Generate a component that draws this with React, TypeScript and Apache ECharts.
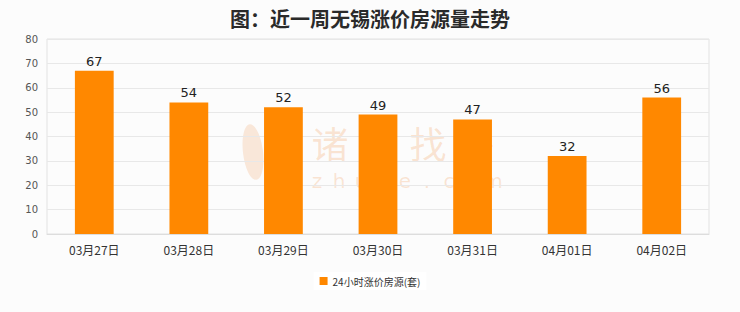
import React, { useEffect, useRef } from "react";
import * as echarts from "echarts";

const titleText = "图：近一周无锡涨价房源量走势";
const categories = ["03月27日", "03月28日", "03月29日", "03月30日", "03月31日", "04月01日", "04月02日"];
const seriesName = "24小时涨价房源(套)";
const values = [67, 54, 52, 49, 47, 32, 56];
const yTicks = { min: 0, max: 80, interval: 10 };
const watermarkBig = ["诸", "葛", "找", "房"];
const watermarkSmall = ["z", "h", "u", "g", "e", ".", "c", "o", "m"];

export default function App() {
  const ref = useRef<HTMLDivElement>(null);
  useEffect(() => {
    const chart = echarts.init(ref.current!, null, { renderer: "svg" });
    const wm = "rgba(240,140,60,0.22)";
    const graphics: any[] = [
      {
        type: "ellipse",
        x: 253,
        y: 152,
        rotation: 0.12,
        shape: { cx: 0, cy: 0, rx: 10, ry: 28 },
        style: { fill: "rgba(240,140,60,0.18)" },
        z: 0,
      },
    ];
    watermarkBig.forEach((ch, i) => {
      graphics.push({
        type: "text",
        x: 330 + i * 49,
        y: 143,
        style: {
          text: ch,
          fontSize: 37,
          lineHeight: 30,
          fill: wm,
          align: "center",
          verticalAlign: "middle",
          fontFamily: "Noto Sans CJK SC",
        },
        z: 0,
      });
    });
    watermarkSmall.forEach((ch, i) => {
      graphics.push({
        type: "text",
        x: 317 + i * 22,
        y: 181,
        style: {
          text: ch,
          fontSize: 20,
          lineHeight: 14,
          fill: wm,
          align: "center",
          verticalAlign: "middle",
          fontFamily: "DejaVu Sans",
        },
        z: 0,
      });
    });
    chart.setOption({
      animation: false,
      backgroundColor: "#fcfcfc",
      title: {
        text: titleText,
        left: "center",
        top: 3,
        textStyle: { fontSize: 20, fontWeight: "bold", color: "#2a2a2a", fontFamily: "Noto Sans CJK SC" },
      },
      legend: {
        bottom: 22,
        left: "center",
        backgroundColor: "#ffffff",
        padding: [4, 6],
        itemWidth: 8,
        itemHeight: 8,
        itemGap: 5,
        textStyle: { fontSize: 10, color: "#333", fontFamily: "Noto Sans CJK SC" },
        data: [{ name: seriesName, icon: "rect" }],
      },
      grid: {
        left: 47,
        right: 31,
        top: 39,
        bottom: 78,
        show: true,
        borderColor: "#e2e2e2",
        borderWidth: 1,
        backgroundColor: "transparent",
      },
      graphic: graphics,
      xAxis: {
        type: "category",
        data: categories,
        axisTick: { show: false },
        axisLine: { lineStyle: { color: "#ddd" } },
        axisLabel: { color: "#333", fontSize: 12, margin: 9, fontFamily: "Noto Sans CJK SC" },
      },
      yAxis: {
        type: "value",
        min: yTicks.min,
        max: yTicks.max,
        interval: yTicks.interval,
        axisLine: { show: false },
        axisTick: { show: false },
        axisLabel: { color: "#555", fontSize: 10, margin: 9, fontFamily: "DejaVu Sans" },
        splitLine: { lineStyle: { color: "#e8e8e8" } },
      },
      series: [
        {
          name: seriesName,
          type: "bar",
          data: values,
          barWidth: "41%",
          z: 3,
          itemStyle: { color: "#ff8800" },
          label: {
            show: true,
            position: "top",
            distance: 3,
            color: "#222",
            fontSize: 13,
            lineHeight: 13,
            fontFamily: "DejaVu Sans",
          },
        },
      ],
    });
    return () => chart.dispose();
  }, []);
  return <div ref={ref} style={{ position: "fixed", left: 0, top: 0, width: 740, height: 312 }} />;
}
